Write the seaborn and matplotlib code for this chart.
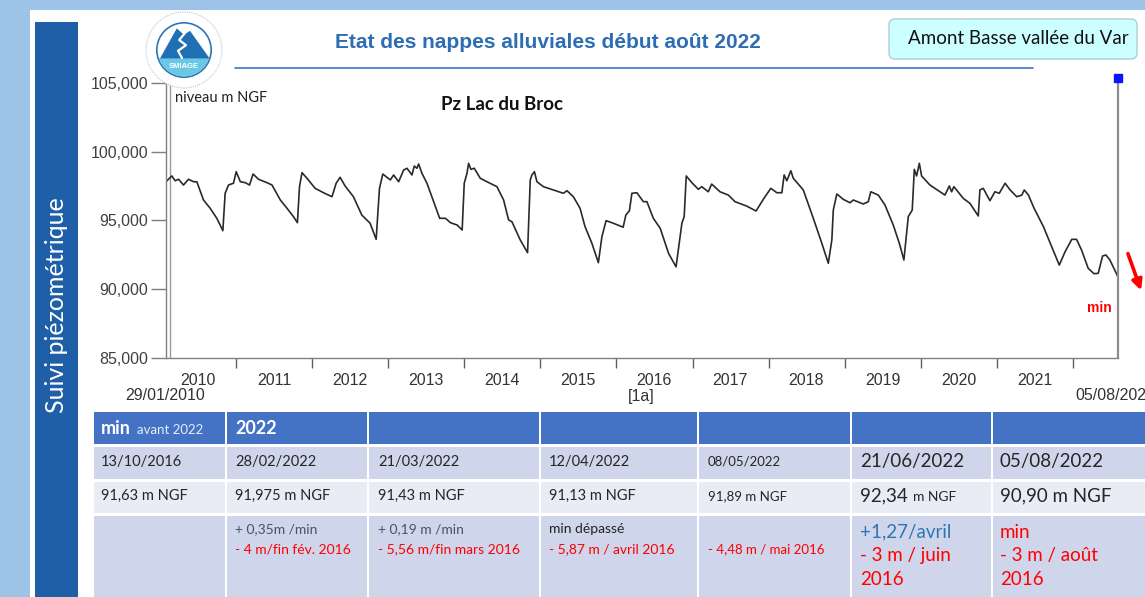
import numpy as np
import pandas as pd
import seaborn as sns
import matplotlib.pyplot as plt
from matplotlib.patches import Rectangle, FancyBboxPatch, Circle, Polygon
from matplotlib.ticker import FuncFormatter

# Piezometer readings
dates = [
    "2010-01-29", "2010-02-26", "2010-03-14", "2010-03-30", "2010-04-23", "2010-05-17", "2010-06-10",
    "2010-06-26", "2010-07-28", "2010-08-29", "2010-09-30", "2010-10-29", "2010-11-09", "2010-11-25",
    "2010-12-19", "2011-01-01", "2011-01-21", "2011-02-14", "2011-03-06", "2011-03-23", "2011-04-18",
    "2011-05-29", "2011-06-22", "2011-08-01", "2011-09-02", "2011-10-03", "2011-10-22", "2011-11-01",
    "2011-11-13", "2011-12-07", "2012-01-15", "2012-02-24", "2012-04-05", "2012-04-25", "2012-05-14",
    "2012-06-07", "2012-07-17", "2012-08-26", "2012-10-05", "2012-11-03", "2012-11-19", "2012-12-05",
    "2013-01-10", "2013-01-26", "2013-02-19", "2013-03-15", "2013-03-31", "2013-04-24", "2013-05-05",
    "2013-05-18", "2013-05-26", "2013-06-11", "2013-07-05", "2013-08-06", "2013-09-04", "2013-10-02",
    "2013-10-26", "2013-11-27", "2013-12-21", "2013-12-31", "2014-01-13", "2014-01-21", "2014-02-01",
    "2014-02-17", "2014-03-18", "2014-04-19", "2014-06-06", "2014-07-08", "2014-08-01", "2014-08-17",
    "2014-09-26", "2014-10-31", "2014-11-13", "2014-11-21", "2014-12-03", "2014-12-15", "2015-01-15",
    "2015-03-04", "2015-04-21", "2015-05-08", "2015-06-08", "2015-07-10", "2015-08-03", "2015-09-05",
    "2015-10-06", "2015-10-23", "2015-11-12", "2015-12-17", "2016-02-02", "2016-02-15", "2016-03-03",
    "2016-03-15", "2016-04-08", "2016-05-09", "2016-05-26", "2016-06-26", "2016-07-29", "2016-09-07",
    "2016-10-13", "2016-11-10", "2016-11-21", "2016-12-01", "2016-12-28", "2017-01-28", "2017-02-13",
    "2017-03-17", "2017-04-02", "2017-05-12", "2017-06-21", "2017-07-23", "2017-09-17", "2017-11-01",
    "2017-12-06", "2018-01-11", "2018-02-09", "2018-03-05", "2018-03-16", "2018-03-29", "2018-04-17",
    "2018-04-29", "2018-06-16", "2018-08-03", "2018-09-13", "2018-10-14", "2018-10-31", "2018-11-07",
    "2018-11-24", "2018-12-25", "2019-01-26", "2019-02-11", "2019-03-31", "2019-04-24", "2019-05-06",
    "2019-06-11", "2019-07-13", "2019-08-22", "2019-09-20", "2019-10-12", "2019-11-02", "2019-11-21",
    "2019-12-01", "2019-12-12", "2019-12-25", "2020-01-05", "2020-02-14", "2020-03-25", "2020-04-26",
    "2020-05-17", "2020-05-28", "2020-06-08", "2020-07-23", "2020-08-24", "2020-10-03", "2020-10-11",
    "2020-10-27", "2020-11-28", "2020-12-22", "2021-01-12", "2021-02-09", "2021-03-05", "2021-04-06",
    "2021-04-30", "2021-05-12", "2021-06-01", "2021-06-28", "2021-08-12", "2021-09-21", "2021-10-27",
    "2021-11-24", "2021-12-26", "2022-01-18", "2022-02-11", "2022-03-15", "2022-04-12", "2022-05-02",
    "2022-05-23", "2022-06-08", "2022-06-27", "2022-08-05",
]
levels = [
    97.82, 98.24, 97.89, 98.00, 97.58, 98.00, 97.82,
    97.82, 96.49, 95.89, 95.16, 94.26, 96.98, 97.58,
    97.71, 98.55, 97.82, 97.75, 97.58, 98.38, 98.00,
    97.75, 97.58, 96.49, 95.89, 95.28, 94.84, 97.46,
    98.48, 98.07, 97.34, 97.02, 96.73, 97.71, 98.14,
    97.51, 96.73, 95.40, 94.80, 93.63, 97.34, 98.38,
    97.95, 98.31, 97.82, 98.67, 98.80, 98.31, 98.96,
    98.80, 99.11, 98.43, 97.71, 96.37, 95.16, 95.16,
    94.84, 94.67, 94.31, 97.71, 98.43, 99.16, 98.72,
    98.80, 98.07, 97.82, 97.46, 96.49, 95.04, 94.91,
    93.58, 92.66, 97.95, 98.31, 98.55, 97.82, 97.46,
    97.22, 96.98, 97.17, 96.73, 95.89, 94.55, 93.34,
    91.93, 93.82, 94.99, 94.80, 94.51, 95.40, 95.71,
    96.98, 97.02, 96.37, 96.37, 95.16, 94.43, 92.61,
    91.63, 94.80, 95.28, 98.24, 97.75, 97.27, 97.46,
    97.09, 97.65, 97.09, 96.85, 96.37, 96.05, 95.69,
    96.54, 97.34, 97.02, 97.02, 98.31, 97.89, 98.62,
    98.07, 97.22, 95.16, 93.34, 91.89, 93.58, 95.76,
    96.93, 96.54, 96.29, 96.49, 96.20, 96.37, 97.09,
    96.85, 96.13, 94.67, 93.34, 92.13, 95.28, 95.76,
    98.72, 98.24, 99.16, 98.24, 97.58, 97.17, 96.85,
    97.51, 97.09, 97.46, 96.61, 96.25, 95.33, 97.22,
    97.34, 96.44, 97.09, 96.98, 97.71, 97.22, 96.73,
    96.85, 97.22, 96.85, 95.89, 94.55, 93.09, 91.76,
    92.73, 93.63, 93.63, 92.85, 91.52, 91.13, 91.16,
    92.42, 92.49, 92.13, 90.90,
]
y_ticks = [85, 90, 95, 100, 105]
year_labels = [str(y) for y in range(2010, 2022)]

# Table content
head_cells = ["min", "2022", "", "", "", "", ""]
tab_dates = ["13/10/2016", "28/02/2022", "21/03/2022", "12/04/2022", "08/05/2022", "21/06/2022", "05/08/2022"]
tab_levels = ["91,63", "91,975", "91,43", "91,13", "91,89", "92,34", "90,90"]
tab_notes = ["", "+ 0,35m /min", "+ 0,19 m /min", "min dépassé", "", "+1,27/avril", "min"]
tab_vs2016 = ["", "- 4 m/fin fév. 2016", "- 5,56 m/fin mars 2016", "- 5,87 m / avril 2016",
              "- 4,48 m / mai 2016", "- 3 m / juin\n2016", "- 3 m / août\n2016"]

sns.set_style("ticks")
plt.rcParams["font.family"] = ["Liberation Sans", "DejaVu Sans"]
W, H = 1145, 597
fig = plt.figure(figsize=(W / 100, H / 100), dpi=100, facecolor="#9dc3e6")

# slide background drawn in pixel coordinates
bg = fig.add_axes([0, 0, 1, 1], zorder=0)
bg.set_xlim(0, W)
bg.set_ylim(H, 0)
bg.axis("off")
bg.add_patch(Rectangle((30, 10), W - 30, H - 10, fc="white", ec="none"))
bg.add_patch(Rectangle((35, 22), 43, H - 22, fc="#1f5fa8", ec="none"))
bg.text(57, 305, "Suivi piézométrique", rotation=90, color="white", fontsize=18,
        family=["Lato", "DejaVu Sans"], ha="center", va="center")

bg.text(548, 42, "Etat des nappes alluviales début août 2022", fontsize=15, fontweight="bold",
        color="#2e6db4", ha="center", va="center")
bg.plot([235, 1033], [67.5, 67.5], color="#4472c4", lw=1.2)
bg.add_patch(FancyBboxPatch((889, 19), 248, 40, boxstyle="round,pad=0,rounding_size=6",
                            fc="#ccffff", ec="#a9cfd8", lw=1))
bg.text(1018, 38, "Amont Basse vallée du Var", fontsize=13.5, family=["Lato", "DejaVu Sans"],
        ha="center", va="center", color="#111111")

# second line of the double left axis
bg.plot([169.5, 169.5], [83, 358], color="#9a9a9a", lw=1)

bg.text(175, 98, "niveau m NGF", fontsize=10.5, family=["Lato", "DejaVu Sans"], va="center", color="#222222")
bg.text(502, 104, "Pz Lac du Broc", fontsize=13.5, fontweight="bold", family=["Lato", "DejaVu Sans"],
        ha="center", va="center", color="#111111")
bg.text(1099, 308, "min", fontsize=10, fontweight="bold", color="red", ha="center", va="center")
bg.annotate("", xy=(1142, 293), xytext=(1127, 251),
            arrowprops=dict(arrowstyle="-|>,head_length=0.6,head_width=0.3", color="red", lw=2.6))

bg.text(165, 396, "29/01/2010", fontsize=11.5, ha="center", va="center", color="#333333")
bg.text(641, 396, "[1a]", fontsize=11.5, ha="center", va="center", color="#333333")
bg.text(1075, 396, "05/08/2022", fontsize=11.5, ha="left", va="center", color="#333333")

# --- table ---
col_edges = [93, 226, 368, 540, 698, 851, 992, 1160]
rows = [(412, 444, "#4472c4"), (447, 479, "#cfd5ea"), (482, 513, "#e9ebf5"), (516, 600, "#cfd5ea")]
for y0, y1, fc in rows:
    for x0, x1 in zip(col_edges[:-1], col_edges[1:]):
        bg.add_patch(Rectangle((x0 + 1, y0), x1 - x0 - 2, y1 - y0, fc=fc, ec="none"))

tfont = ["Lato", "DejaVu Sans"]
text_x = [101, 235, 378, 549, 708, 860, 1000]
bg.text(text_x[0], 429, head_cells[0], fontsize=13, fontweight="bold", color="white",
        family=tfont, va="center")
bg.text(137, 430, "avant 2022", fontsize=9.5, color="#e8ecf7", family=tfont, va="center")
bg.text(text_x[1], 429, head_cells[1], fontsize=13, fontweight="bold", color="white",
        family=tfont, va="center")

date_sizes = [10.5, 10.5, 10.5, 10.5, 9.5, 13.5, 13.5]
for i, (x, d) in enumerate(zip(text_x, tab_dates)):
    bg.text(x, 462, d, fontsize=date_sizes[i], family=tfont, va="center", color="#262626")

for i, (x, v) in enumerate(zip(text_x, tab_levels)):
    if i == 5:
        bg.text(x, 496, v, fontsize=13.5, family=tfont, va="center", color="#262626")
        bg.text(913, 497, "m NGF", fontsize=10, family=tfont, va="center", color="#262626")
    elif i == 6:
        bg.text(x, 496, v + " m NGF", fontsize=13.5, family=tfont, va="center", color="#262626")
    else:
        bg.text(x, 496, v + " m NGF", fontsize=date_sizes[i], family=tfont, va="center", color="#262626")

note_colors = ["#44546a", "#44546a", "#44546a", "#222222", "#44546a", "#2e75b6", "red"]
for i, (x, n) in enumerate(zip(text_x, tab_notes)):
    if not n:
        continue
    big = i >= 5
    bg.text(x, 532 if big else 529, n, fontsize=13.5 if big else 10, family=tfont,
            va="center", color=note_colors[i])
for i, (x, n) in enumerate(zip(text_x, tab_vs2016)):
    if not n:
        continue
    if i >= 5:
        bg.text(x, 547, n, fontsize=13.5, family=tfont, va="top", color="red", linespacing=1.5)
    else:
        bg.text(x, 549, n, fontsize=10 if i < 4 else 9.5, family=tfont, va="center", color="red")

# --- chart ---
df = pd.DataFrame({"date": pd.to_datetime(dates), "niveau": levels})
ax = fig.add_axes([166 / W, 1 - 358 / H, 952 / W, 275 / H], zorder=1)
ax.set_facecolor("none")
sns.lineplot(data=df, x="date", y="niveau", ax=ax, color="#2a2a2a", linewidth=1.2)
ax.set_xlim(df["date"].iloc[0], df["date"].iloc[-1])
ax.set_ylim(y_ticks[0], y_ticks[-1])
ax.set_xlabel("")
ax.set_ylabel("")

ax.set_yticks(y_ticks)
ax.yaxis.set_major_formatter(FuncFormatter(lambda v, p: f"{v:.3f}".replace(".", ",")))
ax.tick_params(axis="y", direction="out", length=11, width=1, color="#7f7f7f",
               labelsize=11.5, labelcolor="#404040", pad=2)

year_starts = pd.to_datetime([f"{y}-01-01" for y in range(2011, 2023)])
mid_years = pd.to_datetime([f"{y}-07-01" for y in year_labels])
ax.set_xticks(year_starts)
ax.set_xticklabels([])
ax.set_xticks(mid_years, labels=year_labels, minor=True)
ax.tick_params(axis="x", which="major", direction="out", length=7, width=1, color="#606060")
ax.tick_params(axis="x", which="minor", length=0, labelsize=11.5, labelcolor="#333333", pad=11)

for side in ["top", "right"]:
    ax.spines[side].set_visible(False)
for side in ["left", "bottom"]:
    ax.spines[side].set_color("#808080")
    ax.spines[side].set_linewidth(1)

end = df["date"].iloc[-1]
ax.plot([end, end], [y_ticks[0], 105.35], color="#8c8c8c", lw=1.6, clip_on=False)
ax.plot([end], [105.35], marker="s", ms=6, color="#0a14ff", clip_on=False)

# --- logo ---
lg = fig.add_axes([144 / W, 1 - 90 / H, 80 / W, 80 / H], zorder=2)
lg.set_xlim(-1, 1)
lg.set_ylim(-1, 1)
lg.axis("off")
lg.add_patch(Circle((0, 0), 0.95, fc="white", ec="#b8c8dc", lw=0.8, ls=(0, (1, 1))))
lg.add_patch(Circle((0, 0), 0.68, fc="white", ec="#2e75b6", lw=1.2))
lower = Circle((0, 0), 0.66, fc="#6ac7e6", ec="none")
lg.add_patch(lower)
lower.set_clip_path(Rectangle((-1, -1), 2, 0.79, transform=lg.transData))
lg.add_patch(Polygon([(-0.6, -0.21), (-0.18, 0.54), (0.0, 0.38), (0.15, 0.48), (0.64, -0.21)],
                     closed=True, fc="#1f6fb5", ec="none"))
lg.plot([0.02, -0.12, 0.05, -0.15, -0.05], [0.42, 0.25, 0.12, -0.02, -0.2], color="white", lw=1.6)
lg.text(0, -0.4, "SMIAGE", fontsize=5.5, fontweight="bold", color="white", ha="center", va="center")

fig.savefig("out.png", dpi=100, facecolor=fig.get_facecolor())
